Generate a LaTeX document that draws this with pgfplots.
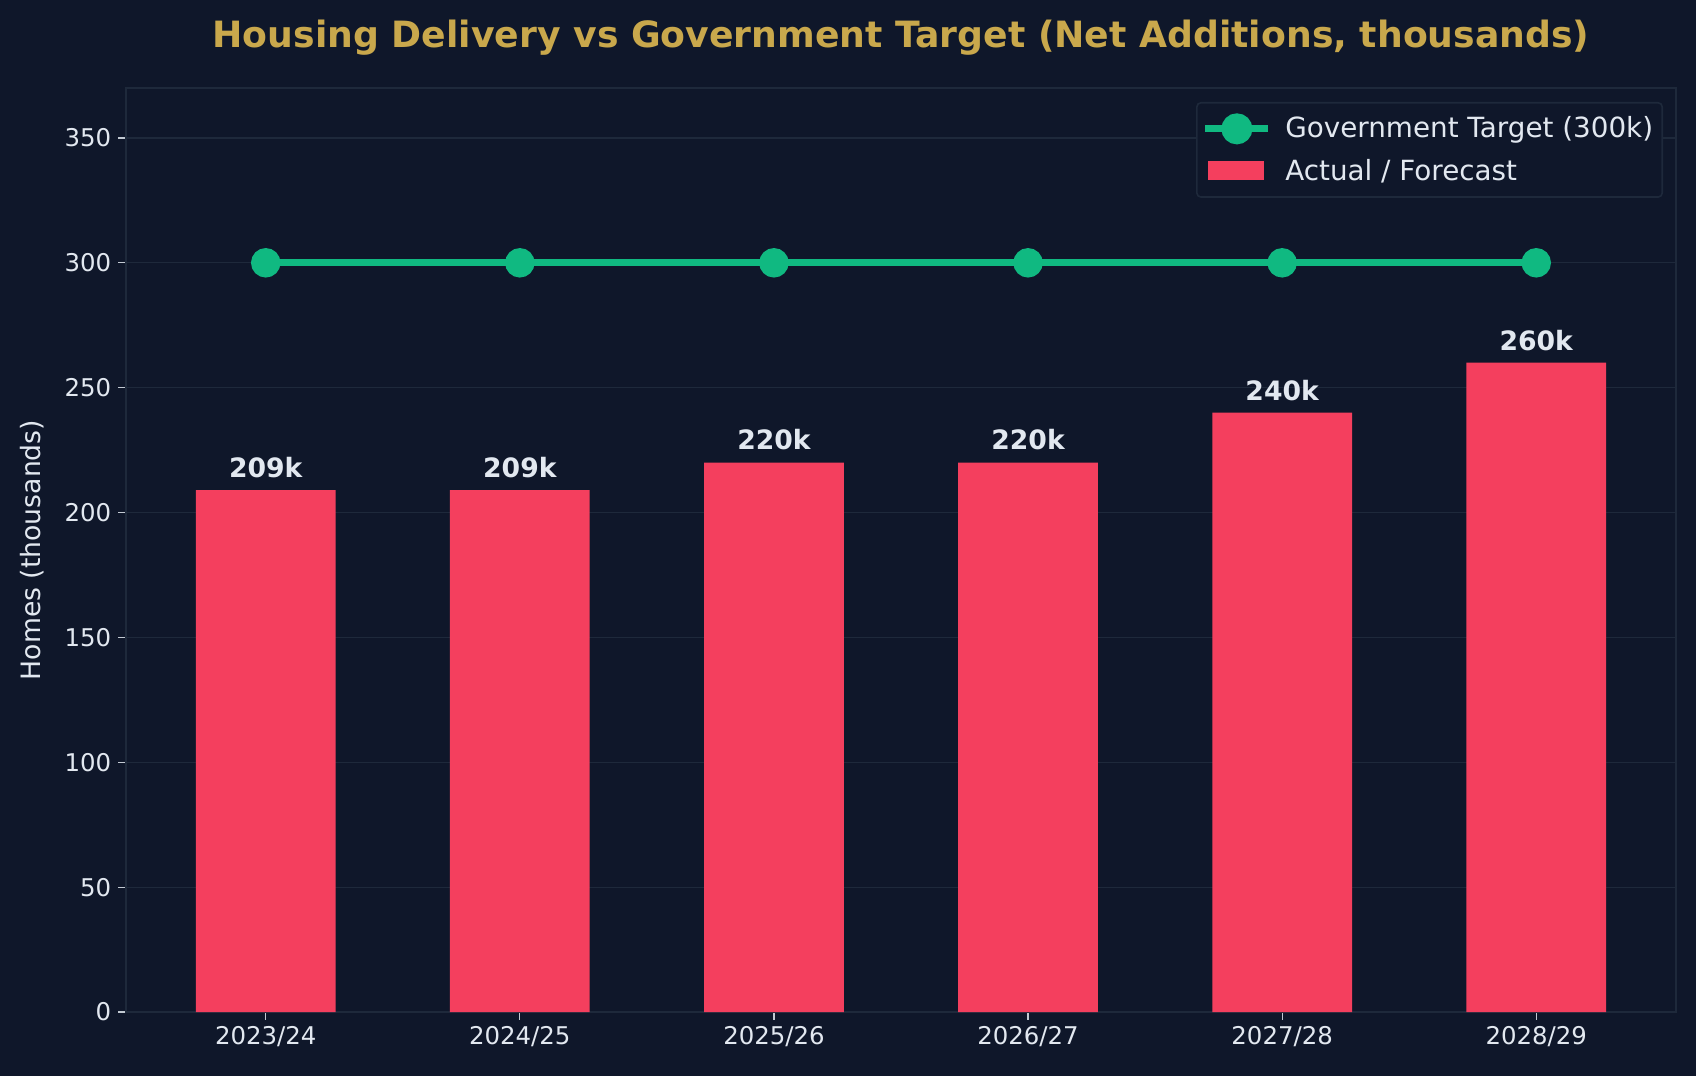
\documentclass[border=0pt]{standalone}
\usepackage{pgfplots}
\pgfplotsset{compat=1.18}
\usepackage{fontspec}
\setmainfont{DejaVu Sans}

\definecolor{bg}{HTML}{0F172A}
\definecolor{barc}{HTML}{F43F5E}
\definecolor{linec}{HTML}{10B981}
\definecolor{txt}{HTML}{E2E8F0}
\definecolor{spine}{HTML}{1E293B}
\definecolor{gold}{HTML}{C9A84C}

\begin{document}
\begin{tikzpicture}
\fill[bg] (-63pt,-32pt) rectangle (785pt,506pt);
\useasboundingbox (-63pt,-32pt) rectangle (785pt,506pt);
\node[font=\bfseries\fontsize{18.1}{21}\selectfont, text=gold, anchor=base]
  at (387.5pt,482.15pt) {Housing Delivery vs Government Target (Net Additions, thousands)};
\begin{axis}[
  at={(0pt,0pt)}, anchor=south west,
  scale only axis, width=775pt, height=462pt,
  xmin=-0.55, xmax=5.55, ymin=0, ymax=370,
  axis background/.style={fill=bg},
  axis line style={spine, line width=0.8pt},
  xtick={0,1,2,3,4,5},
  xticklabels={2023/24,2024/25,2025/26,2026/27,2027/28,2028/29},
  ytick={0,50,100,150,200,250,300,350},
  xtick pos=lower, ytick pos=left,
  tick align=outside, major tick length=3.9pt,
  tick style={color=txt!85!bg, line width=0.6pt},
  ymajorgrids, major grid style={spine, line width=0.6pt},
  ticklabel style={font=\fontsize{12.2}{14}\selectfont, text=txt},
  /pgf/number format/assume math mode=true,
  ylabel={Homes (thousands)},
  ylabel style={font=\fontsize{13.33}{16}\selectfont, text=txt,
    at={(axis description cs:-0.0606,0.5)}, anchor=center},
  legend cell align=left,
  legend style={at={(axis description cs:1,1)}, anchor=north east,
    xshift=-6.5pt, yshift=-7pt, fill=bg, draw=spine, line width=0.8pt,
    rounded corners=2pt, text=txt, font=\fontsize{13.9}{16}\selectfont,
    row sep=5pt, inner xsep=2.5pt, inner ysep=5pt},
]
% target line
\addplot[linec, line width=3.5pt, mark=*, mark size=5.6pt,
  mark options={draw=none, fill=linec},
  legend image code/.code={
    \draw[sharp corners, linec, line width=3.5pt] (0pt,0pt) -- (31.5pt,0pt);
    \fill[linec] (15.75pt,0pt) circle (6pt);
    \path (36.2pt,0pt);}]
  coordinates {(0,300) (1,300) (2,300) (3,300) (4,300) (5,300)};
\addlegendentry{Government Target (300k)}
% delivered / forecast homes
\addplot[ybar, bar width=0.55, fill=barc, draw=none,
  nodes near coords={\bfseries\pgfmathprintnumber{\pgfplotspointmeta}k},
  nodes near coords style={text=txt, font=\fontsize{13.33}{16}\selectfont,
    anchor=base, inner sep=0pt, yshift=6.3pt},
  legend image code/.code={
    \fill[sharp corners, barc] (1.5pt,-4.75pt) rectangle (29.5pt,4.75pt);
    \path (36.2pt,0pt);}]
  coordinates {(0,209) (1,209) (2,220) (3,220) (4,240) (5,260)};
\addlegendentry{Actual / Forecast}
\end{axis}
\end{tikzpicture}
\end{document}
